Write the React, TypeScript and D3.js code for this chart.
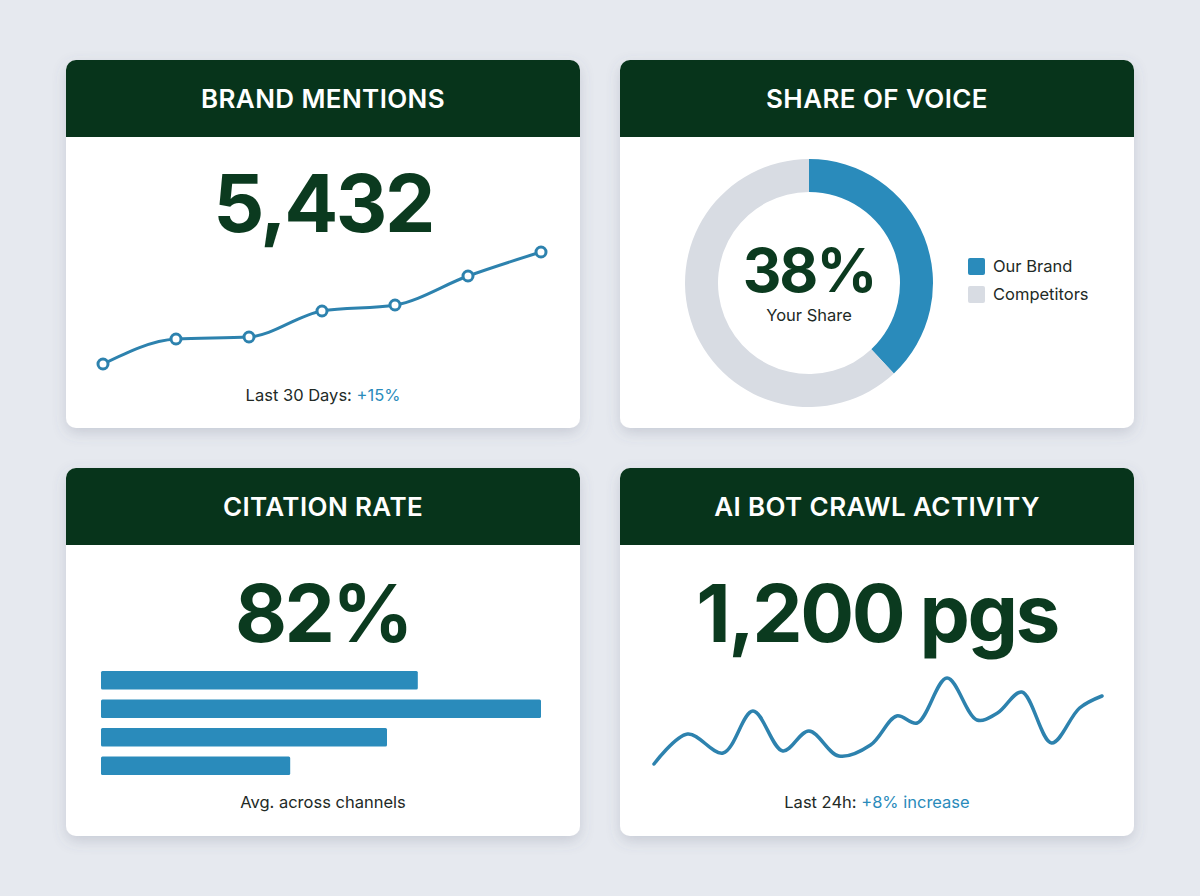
import React from "react";
import * as d3 from "d3";

// ---- data ----
const cardTitles = ["BRAND MENTIONS", "SHARE OF VOICE", "CITATION RATE", "AI BOT CRAWL ACTIVITY"];

const mentionsTotal = "5,432";
const mentionTrend = [36, 61, 63, 89, 95, 124, 148];
const mentionNote = ["Last 30 Days: ", "+15%"];

const shareLabels = ["Our Brand", "Competitors"];
const shareValues = [38, 62];
const shareCaption = "Your Share";

const citationTotal = "82%";
const channelRates = [72, 100, 65, 43];
const citationNote = "Avg. across channels";

const crawlTotal = "1,200 pgs";
const crawlHours = [0, 1.8, 3.7, 5.3, 6.9, 8.3, 9.9, 11.6, 13.0, 14.1, 15.7, 17.3, 18.4, 19.7, 21.3, 22.8, 24];
const crawlPages = [16, 46, 27, 69, 29, 49, 24, 35, 64, 57, 102, 60, 67, 88, 37, 72, 84];
const crawlNote = ["Last 24h: ", "+8% increase"];

// ---- style ----
const W = 1200;
const H = 896;
const bg = "#e6e9ef";
const headerGreen = "#07341b";
const valueGreen = "#0b3a1f";
const blue = "#2a8bbb";
const lineBlue = "#2d82ae";
const ringGray = "#d8dce3";
const textDark = "#222a26";
const font = "Inter, 'Noto Sans', sans-serif";

const cardW = 514;
const cardH = 368;
const headerH = 77;
const cols = [66, 620];
const rows = [60, 468];

const Card = ({x, y, title, id, children}: {x: number; y: number; title: string; id: string; children?: React.ReactNode}) => (
  <g transform={`translate(${x},${y})`}>
    <clipPath id={id}>
      <rect width={cardW} height={cardH} rx={10} />
    </clipPath>
    <rect width={cardW} height={cardH} rx={10} fill="#fff" filter="url(#shadow)" />
    <g clipPath={`url(#${id})`}>
      <rect width={cardW} height={headerH} fill={headerGreen} />
    </g>
    <text x={cardW / 2} y={48} textAnchor="middle" fill="#fff" fontFamily={font}
      fontSize={26} fontWeight={600} letterSpacing={0.4}>{title}</text>
    {children}
  </g>
);

const BigValue = ({x, y, text}: {x: number; y: number; text: string}) => (
  <text x={x} y={y} textAnchor="middle" fill={valueGreen} fontFamily={font}
    fontSize={80} fontWeight={700} letterSpacing={-2.5}>{text}</text>
);

export default function App() {
  // brand mentions trend
  const mx = d3.scaleLinear().domain([0, mentionTrend.length - 1]).range([37, 475]);
  const my = d3.scaleLinear().domain([0, 160]).range([340, 180]);
  const mentionLine = d3.line<number>()
    .x((d, i) => mx(i))
    .y(d => my(d))
    .curve(d3.curveMonotoneX)(mentionTrend) || "";

  // share of voice donut
  const pie = d3.pie<number>().sort(null).value(d => d)(shareValues);
  const arc = d3.arc<d3.PieArcDatum<number>>().innerRadius(91).outerRadius(124);
  const shareColors = d3.scaleOrdinal<string, string>().domain(shareLabels).range([blue, ringGray]);

  // citation bars
  const bx = d3.scaleLinear().domain([0, 100]).range([0, 440]);
  const by = d3.scaleBand<number>().domain(d3.range(channelRates.length)).range([203, 307]).paddingInner(0.35);

  // crawl activity
  const cx = d3.scaleLinear().domain([0, 24]).range([34, 482]);
  const cy = d3.scaleLinear().domain([0, 110]).range([312, 202]);
  const crawlLine = d3.line<number>()
    .x((d, i) => cx(crawlHours[i]))
    .y(d => cy(d))
    .curve(d3.curveCatmullRom.alpha(0.5))(crawlPages) || "";

  return (
    <div style={{position: "absolute", left: 0, top: 0}}>
      <svg width={W} height={H} style={{display: "block"}}>
        <defs>
          <filter id="shadow" x="-10%" y="-10%" width="120%" height="130%">
            <feDropShadow dx={0} dy={5} stdDeviation={7} floodColor="#5a6478" floodOpacity={0.22} />
          </filter>
        </defs>
        <rect width={W} height={H} fill={bg} />

        <Card x={cols[0]} y={rows[0]} title={cardTitles[0]} id="c1">
          <BigValue x={cardW / 2} y={172} text={mentionsTotal} />
          <path d={mentionLine} fill="none" stroke={lineBlue} strokeWidth={3} />
          {mentionTrend.map((d, i) => (
            <circle key={i} cx={mx(i)} cy={my(d)} r={5} fill="#fff" stroke={lineBlue} strokeWidth={3} />
          ))}
          <text x={cardW / 2} y={341} textAnchor="middle" fontFamily={font} fontSize={16.5} fill={textDark}>
            {mentionNote[0]}<tspan fill={blue}>{mentionNote[1]}</tspan>
          </text>
        </Card>

        <Card x={cols[1]} y={rows[0]} title={cardTitles[1]} id="c2">
          <g transform="translate(189,223)">
            {pie.map((p, i) => (
              <path key={i} d={arc(p) || ""} fill={shareColors(shareLabels[i])} />
            ))}
            <text x={0} y={9} textAnchor="middle" fill={valueGreen} fontFamily={font}
              fontSize={60} fontWeight={700} letterSpacing={-2}>{shareValues[0]}%</text>
            <text x={0} y={38} textAnchor="middle" fill={textDark} fontFamily={font} fontSize={16.5}>{shareCaption}</text>
          </g>
          {shareLabels.map((l, i) => (
            <g key={l} transform={`translate(348,${198 + i * 28})`}>
              <rect width={17} height={17} rx={2} fill={shareColors(l)} />
              <text x={25} y={14} fontFamily={font} fontSize={16.5} fill={textDark}>{l}</text>
            </g>
          ))}
        </Card>

        <Card x={cols[0]} y={rows[1]} title={cardTitles[2]} id="c3">
          <BigValue x={cardW / 2} y={174} text={citationTotal} />
          {channelRates.map((v, i) => (
            <rect key={i} x={35} y={by(i)} width={bx(v)} height={by.bandwidth()} rx={1.5} fill={blue} />
          ))}
          <text x={cardW / 2} y={340} textAnchor="middle" fontFamily={font} fontSize={16.5} fill={textDark}>{citationNote}</text>
        </Card>

        <Card x={cols[1]} y={rows[1]} title={cardTitles[3]} id="c4">
          <BigValue x={cardW / 2} y={174} text={crawlTotal} />
          <path d={crawlLine} fill="none" stroke={lineBlue} strokeWidth={3.5} strokeLinecap="round" />
          <text x={cardW / 2} y={340} textAnchor="middle" fontFamily={font} fontSize={16.5} fill={textDark}>
            {crawlNote[0]}<tspan fill={blue}>{crawlNote[1]}</tspan>
          </text>
        </Card>
      </svg>
    </div>
  );
}
